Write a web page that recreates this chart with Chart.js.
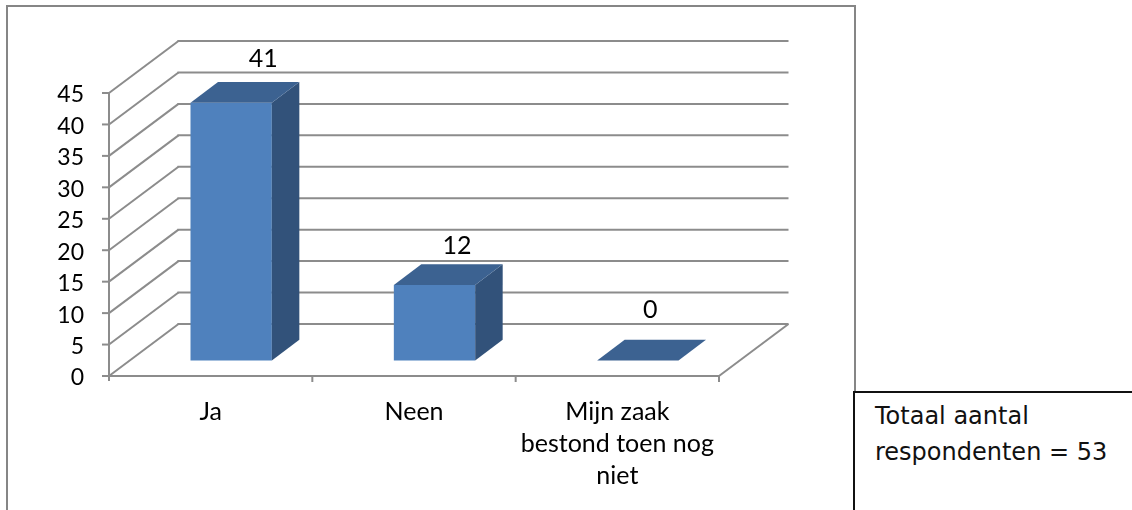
<!DOCTYPE html>
<html>
<head>
<meta charset="utf-8">
<script src="https://cdn.jsdelivr.net/npm/chart.js@4"></script>
<style>
html,body{margin:0;padding:0;background:#fff;overflow:hidden;width:1132px;height:510px}
#wrap{position:relative;width:1132px;height:510px}
canvas{position:absolute;left:0;top:0}
#frame{position:absolute;left:6px;top:5px;width:846px;height:520px;border:2px solid #868686;box-sizing:content-box}
#box{position:absolute;left:853px;top:391px;width:290px;height:130px;border:2px solid #111;box-sizing:border-box;
  font:24px/35.5px "DejaVu Sans",sans-serif;color:#111;padding:6px 0 0 20px;white-space:nowrap;background:#fff}
</style>
</head>
<body>
<div id="wrap">
<div id="frame"></div>
<canvas id="c" width="1132" height="510"></canvas>
<div id="box">Totaal aantal<br>respondenten = 53</div>
</div>
<script>
const categories = [["Ja"], ["Neen"], ["Mijn zaak", "bestond toen nog", "niet"]];
const respondents = [41, 12, 0];
const yTicks = [0, 5, 10, 15, 20, 25, 30, 35, 40, 45];

// 3D projection and styling constants
const WALL = {dx: 69.5, dy: -52};
const BAR_FRONT = {dx: 20.5, dy: -15.5};
const BAR_DEPTH = {dx: 27.5, dy: -20.7};
const LABEL_SHIFT = [{dx: 32, dy: -23}, {dx: 22.5, dy: -18}, {dx: 12.5, dy: -30}];
const GRID = "#8c8c8c";
const FACE = "#4f81bd", TOP = "#3c6291", SIDE = "#32527a";

function poly(ctx, pts, fill) {
  ctx.beginPath();
  pts.forEach((p, i) => i ? ctx.lineTo(p[0], p[1]) : ctx.moveTo(p[0], p[1]));
  ctx.closePath();
  ctx.fillStyle = fill;
  ctx.fill();
}
function seg(ctx, a, b, c, d) {
  ctx.beginPath(); ctx.moveTo(a, b); ctx.lineTo(c, d); ctx.stroke();
}

const box3d = {
  id: "box3d",
  beforeDatasetsDraw(chart) {
    const {ctx, scales: {x, y}, chartArea: a} = chart;
    ctx.save();
    ctx.strokeStyle = GRID;
    ctx.lineWidth = 2;
    yTicks.forEach(v => {
      const py = y.getPixelForValue(v);
      seg(ctx, a.left, py, a.left + WALL.dx, py + WALL.dy);
      seg(ctx, a.left + WALL.dx - 1, py + WALL.dy, a.right + WALL.dx, py + WALL.dy);
      seg(ctx, a.left - 7, py, a.left, py);
    });
    const y0 = y.getPixelForValue(0);
    seg(ctx, a.right, y0, a.right + WALL.dx, y0 + WALL.dy);
    seg(ctx, a.left, a.top, a.left, a.bottom + 5);
    seg(ctx, a.left, y0, a.right, y0);
    for (let i = 0; i < categories.length; i++) {
      const tx = x.getPixelForTick(i) - (x.getPixelForTick(1) - x.getPixelForTick(0)) / 2;
      if (i) seg(ctx, tx, y0, tx, y0 + 6);
    }
    seg(ctx, a.right, y0, a.right, y0 + 6);
    ctx.restore();
  },
  beforeDatasetDraw(chart) {
    chart.ctx.save();
    chart.ctx.translate(BAR_FRONT.dx, BAR_FRONT.dy);
  },
  afterDatasetDraw(chart, args) {
    const ctx = chart.ctx;
    const d = BAR_DEPTH;
    args.meta.data.forEach(el => {
      const p = el.getProps(["x", "y", "base", "width"], true);
      const l = p.x - p.width / 2, r = p.x + p.width / 2;
      if (p.base - p.y > 0.5) {
        poly(ctx, [[r, p.y], [r + d.dx, p.y + d.dy], [r + d.dx, p.base + d.dy], [r, p.base]], SIDE);
      }
      poly(ctx, [[l, p.y], [l + d.dx, p.y + d.dy], [r + d.dx, p.y + d.dy], [r, p.y]], TOP);
    });
    ctx.restore();
    ctx.save();
    ctx.fillStyle = "#000";
    ctx.font = '25px Lato, sans-serif';
    ctx.textAlign = "center";
    ctx.textBaseline = "middle";
    args.meta.data.forEach((el, i) => {
      const p = el.getProps(["x", "y"], true);
      ctx.fillText(String(respondents[i]),
        p.x + BAR_FRONT.dx + LABEL_SHIFT[i].dx,
        p.y + BAR_FRONT.dy + BAR_DEPTH.dy + LABEL_SHIFT[i].dy);
    });
    ctx.restore();
  }
};

new Chart(document.getElementById("c"), {
  type: "bar",
  data: {
    labels: categories,
    datasets: [{
      data: respondents,
      backgroundColor: FACE,
      borderWidth: 0,
      barPercentage: 0.4,
      categoryPercentage: 1,
      clip: false
    }]
  },
  options: {
    responsive: false,
    animation: false,
    events: [],
    layout: {padding: {left: 0, top: 93, right: 413, bottom: 0}},
    plugins: {legend: {display: false}, title: {display: false}, tooltip: {enabled: false}},
    scales: {
      x: {
        grid: {display: false, drawTicks: false},
        border: {display: false},
        afterFit(s) { s.height = 134; },
        ticks: {
          color: "#000", maxRotation: 0, autoSkip: false, padding: 20,
          font: {family: 'Lato', size: 25, lineHeight: 1.28}
        }
      },
      y: {
        min: 0, max: 45,
        grid: {display: false, drawTicks: false},
        border: {display: false},
        afterFit(s) { s.width = 109; },
        afterBuildTicks(s) { s.ticks = yTicks.map(v => ({value: v})); },
        ticks: {
          color: "#000", padding: 25,
          font: {family: 'Lato', size: 23, lineHeight: 0.174},
          callback: v => ["", String(v)]
        }
      }
    }
  },
  plugins: [box3d]
});
</script>
</body>
</html>
